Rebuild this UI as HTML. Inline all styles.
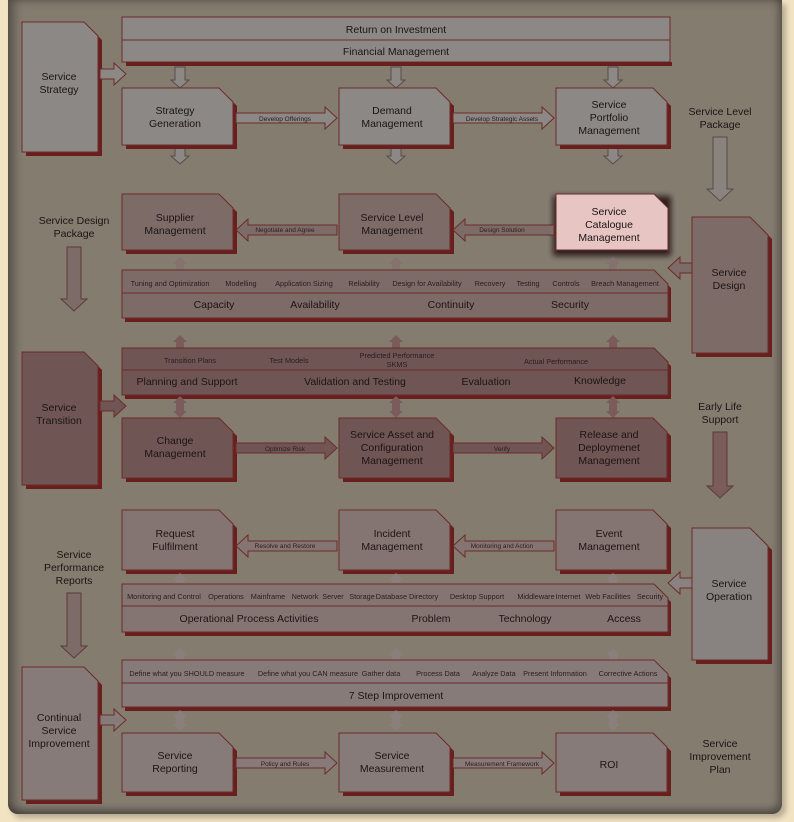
<!DOCTYPE html>
<html><head><meta charset="utf-8"><style>
html,body{margin:0;padding:0;width:794px;height:822px;overflow:hidden;background:#f2e3c3;}
#panel{position:absolute;left:8px;top:0;width:774px;height:814px;background:#857c70;border-radius:0 0 10px 10px;box-shadow:inset 6px 0 10px rgba(0,0,0,.35),inset -4px -4px 8px rgba(0,0,0,.3),4px 4px 6px rgba(0,0,0,.25);}
svg{position:absolute;left:0;top:0;}
text{font-family:"Liberation Sans",sans-serif;fill:#1c1414;text-anchor:middle;}
.b{font-size:10.5px;}
.s{font-size:6.5px;fill:#2a1c1c;}
.m{font-size:7.3px;fill:#2a1c1c;}
.l{font-size:10.5px;}
.side{font-size:10.5px;fill:#1a1414;}
</style></head><body>
<div id="panel"></div>
<svg id="g" width="794" height="822" xmlns="http://www.w3.org/2000/svg">
<defs><filter id="bl" x="-20%" y="-20%" width="140%" height="140%"><feGaussianBlur stdDeviation="3"/></filter></defs>
<g id="shapes"></g>
<g id="txt">
<text class="b" x="59" y="80">Service</text><text class="b" x="59" y="93">Strategy</text>
<text class="b" x="396" y="33">Return on Investment</text>
<text class="b" x="396" y="55">Financial Management</text>
<text class="b" x="175" y="114">Strategy</text><text class="b" x="175" y="127">Generation</text>
<text class="b" x="392" y="114">Demand</text><text class="b" x="392" y="127">Management</text>
<text class="b" x="609" y="108">Service</text><text class="b" x="609" y="121">Portfolio</text><text class="b" x="609" y="134">Management</text>
<text class="s" x="285" y="121">Develop Offerings</text>
<text class="s" x="502" y="121">Develop Strategic Assets</text>
<text class="side" x="720" y="115">Service Level</text><text class="side" x="720" y="128">Package</text>
<text class="side" x="74" y="224">Service Design</text><text class="side" x="74" y="237">Package</text>
<text class="b" x="175" y="221">Supplier</text><text class="b" x="175" y="234">Management</text>
<text class="b" x="392" y="221">Service Level</text><text class="b" x="392" y="234">Management</text>
<text class="b" x="609" y="215">Service</text><text class="b" x="609" y="228">Catalogue</text><text class="b" x="609" y="241">Management</text>
<text class="s" x="285" y="232">Negotiate and Agree</text>
<text class="s" x="502" y="232">Design Solution</text>
<text class="m" x="170" y="286">Tuning and Optimization</text>
<text class="m" x="241" y="286">Modelling</text>
<text class="m" x="304" y="286">Application Sizing</text>
<text class="m" x="364" y="286">Reliability</text>
<text class="m" x="427" y="286">Design for Availability</text>
<text class="m" x="490" y="286">Recovery</text>
<text class="m" x="528" y="286">Testing</text>
<text class="m" x="566" y="286">Controls</text>
<text class="m" x="625" y="286">Breach Management</text>
<text class="l" x="214" y="308">Capacity</text>
<text class="l" x="315" y="308">Availability</text>
<text class="l" x="451" y="308">Continuity</text>
<text class="l" x="570" y="308">Security</text>
<text class="b" x="729" y="276">Service</text><text class="b" x="729" y="289">Design</text>
<text class="b" x="59" y="411">Service</text><text class="b" x="59" y="424">Transition</text>
<text class="m" x="190" y="363">Transition Plans</text>
<text class="m" x="289" y="363">Test Models</text>
<text class="m" x="397" y="358">Predicted Performance</text>
<text class="m" x="397" y="367">SKMS</text>
<text class="m" x="556" y="364">Actual Performance</text>
<text class="l" x="187" y="385">Planning and Support</text>
<text class="l" x="355" y="385">Validation and Testing</text>
<text class="l" x="486" y="385">Evaluation</text>
<text class="l" x="600" y="384">Knowledge</text>
<text class="b" x="175" y="444">Change</text><text class="b" x="175" y="457">Management</text>
<text class="b" x="392" y="438">Service Asset and</text><text class="b" x="392" y="451">Configuration</text><text class="b" x="392" y="464">Management</text>
<text class="b" x="609" y="438">Release and</text><text class="b" x="609" y="451">Deploymenet</text><text class="b" x="609" y="464">Management</text>
<text class="s" x="285" y="451">Optimize Risk</text>
<text class="s" x="502" y="451">Verify</text>
<text class="side" x="720" y="410">Early Life</text><text class="side" x="720" y="423">Support</text>
<text class="side" x="74" y="558">Service</text><text class="side" x="74" y="571">Performance</text><text class="side" x="74" y="584">Reports</text>
<text class="b" x="175" y="537">Request</text><text class="b" x="175" y="550">Fulfilment</text>
<text class="b" x="392" y="537">Incident</text><text class="b" x="392" y="550">Management</text>
<text class="b" x="609" y="537">Event</text><text class="b" x="609" y="550">Management</text>
<text class="s" x="285" y="548">Resolve and Restore</text>
<text class="s" x="502" y="548">Monitoring and Action</text>
<text class="m" x="164" y="599">Monitoring and Control</text>
<text class="m" x="226" y="599">Operations</text>
<text class="m" x="268" y="599">Mainframe</text>
<text class="m" x="305" y="599">Network</text>
<text class="m" x="333" y="599">Server</text>
<text class="m" x="362" y="599">Storage</text>
<text class="m" x="407" y="599">Database Directory</text>
<text class="m" x="477" y="599">Desktop Support</text>
<text class="m" x="536" y="599">Middleware</text>
<text class="m" x="568" y="599">Internet</text>
<text class="m" x="608" y="599">Web Facilities</text>
<text class="m" x="650" y="599">Security</text>
<text class="l" x="249" y="622">Operational Process Activities</text>
<text class="l" x="431" y="622">Problem</text>
<text class="l" x="525" y="622">Technology</text>
<text class="l" x="624" y="622">Access</text>
<text class="b" x="729" y="587">Service</text><text class="b" x="729" y="600">Operation</text>
<text class="b" x="59" y="721">Continual</text><text class="b" x="59" y="734">Service</text><text class="b" x="59" y="747">Improvement</text>
<text class="m" x="187" y="676">Define what you SHOULD measure</text>
<text class="m" x="308" y="676">Define what you CAN measure</text>
<text class="m" x="381" y="676">Gather data</text>
<text class="m" x="438" y="676">Process Data</text>
<text class="m" x="494" y="676">Analyze Data</text>
<text class="m" x="555" y="676">Present Information</text>
<text class="m" x="628" y="676">Corrective Actions</text>
<text class="l" x="396" y="699">7 Step Improvement</text>
<text class="b" x="175" y="759">Service</text><text class="b" x="175" y="772">Reporting</text>
<text class="b" x="392" y="759">Service</text><text class="b" x="392" y="772">Measurement</text>
<text class="b" x="609" y="768">ROI</text>
<text class="s" x="285" y="766">Policy and Rules</text>
<text class="s" x="502" y="766">Measurement Framework</text>
<text class="side" x="720" y="747">Service</text><text class="side" x="720" y="760">Improvement</text><text class="side" x="720" y="773">Plan</text>
</g>
</svg>
<script>
var S=document.getElementById('shapes'),NS='http://www.w3.org/2000/svg';
function el(t,a){var e=document.createElementNS(NS,t);for(var k in a)e.setAttribute(k,a[k]);S.appendChild(e);return e;}
function poly(p,f,s){return el('polygon',{points:p.map(function(q){return q.join(',')}).join(' '),fill:f,stroke:s||'none','stroke-width':1});}
function cut(x,y,w,h,c){return [[x,y],[x+w-c,y],[x+w,y+c],[x+w,y+h],[x,y+h]];}
function box(x,y,w,h,f,c){c=c||14;poly(cut(x+4,y+4,w,h,c),'#6a1f1f');poly(cut(x,y,w,h,c),f,'#6b2b29');}
function bar(x,y,w,h,f,mid){poly(cut(x+3,y+4,w,h,14),'#6a1f1f');poly(cut(x,y,w,h,14),f,'#6b2b29');
 if(mid)el('line',{x1:x,y1:mid,x2:x+w,y2:mid,stroke:'#6b2b29','stroke-width':1});}
function harrow(x1,x2,y,f,s){var d=x2>x1?1:-1,hl=12*d;
 poly([[x1,y-5],[x2-hl,y-5],[x2-hl,y-11],[x2,y],[x2-hl,y+11],[x2-hl,y+5],[x1,y+5]],f,s);}
function varrow(x,y1,y2,f,s,dbl,w,hw,hl){w=w||5;hw=hw||9;hl=hl||8;var d=y2>y1?1:-1;var p=[];
 if(dbl){p=[[x,y1],[x+hw,y1+hl*d],[x+w,y1+hl*d],[x+w,y2-hl*d],[x+hw,y2-hl*d],[x,y2],[x-hw,y2-hl*d],[x-w,y2-hl*d],[x-w,y1+hl*d],[x-hw,y1+hl*d]];}
 else p=[[x-w,y1],[x+w,y1],[x+w,y2-hl*d],[x+hw,y2-hl*d],[x,y2],[x-hw,y2-hl*d],[x-w,y2-hl*d]];
 poly(p,f,s);}
var X=[122,339,556],CX=[180,396,613];
var gs='#8c8885';
box(22,22,76,130,gs,14);
poly([[122,17],[670,17],[670,62],[122,62]],gs,'#6b2b29');
el('rect',{x:126,y:62,width:546,height:4,fill:'#6a1f1f'});
el('line',{x1:122,y1:40,x2:670,y2:40,stroke:'#6b2b29'});
harrow(100,126,74,gs,'#6b2b29');
CX.forEach(function(x){varrow(x,67,88,gs,'#5a4a48');varrow(x,147,164,gs,'#5a4a48');});
X.forEach(function(x){box(x,88,111,57,gs);});
harrow(236,337,118,gs,'#6b2b29');harrow(453,554,118,gs,'#6b2b29');
varrow(720,137,201,'#8a8380','#5a4a48',false,7,13,12);
var gd='#7d6b68';
varrow(74,247,311,'#7d6b68','#5a3a38',false,7,13,12);
box(122,194,111,56,gd);box(339,194,111,56,gd);
el('rect',{x:553,y:196,width:118,height:60,fill:'rgba(20,5,5,0.75)',filter:'url(#bl)'});
poly(cut(556,194,112,56,14),'#e6c5c2','#6b2b29');
harrow(337,236,230,gd,'#6b2b29');harrow(554,453,230,gd,'#6b2b29');
CX.forEach(function(x){varrow(x,270,257,'#84726f','none',false,4,7,7);});
bar(122,270,546,48,gd,293);
box(692,217,76,136,gd,18);
harrow(692,668,268,gd,'#6b2b29');
CX.forEach(function(x){varrow(x,348,335,'#7a5c5a','none',false,4,7,7);});
var gt='#6f5654';
bar(122,348,546,47,gt,370);
box(22,352,76,133,gt,14);
harrow(100,126,406,gt,'#6b2b29');
CX.forEach(function(x){varrow(x,396,418,'#7a5c5a','none',true,4,7,7);});
X.forEach(function(x){box(x,418,111,60,gt);});
harrow(236,337,448,gt,'#6b2b29');harrow(453,554,448,gt,'#6b2b29');
varrow(720,432,498,'#7a5c5a','#5a3a38',false,7,13,12);
var go='#857572';
X.forEach(function(x){box(x,510,111,60,go);});
harrow(337,236,546,go,'#6b2b29');harrow(554,453,546,go,'#6b2b29');
CX.forEach(function(x){varrow(x,584,573,'#8a7f7c','none',false,4,7,7);});
bar(122,584,546,48,go,606);
varrow(74,593,658,'#7d6b68','#5a3a38',false,7,13,12);
box(692,528,76,132,'#888380',18);
harrow(692,668,583,'#888380','#6b2b29');
CX.forEach(function(x){varrow(x,660,648,'#8a7f7c','none',false,4,7,7);});
var gc='#877b79';
bar(122,660,546,47,gc,683);
box(22,667,76,133,gc,14);
harrow(100,126,720,gc,'#6b2b29');
CX.forEach(function(x){varrow(x,710,731,'#8a7f7c','none',true,4,7,7);});
X.forEach(function(x){box(x,733,111,59,gc);});
harrow(236,337,763,gc,'#6b2b29');harrow(453,554,763,gc,'#6b2b29');
</script>
</body></html>
